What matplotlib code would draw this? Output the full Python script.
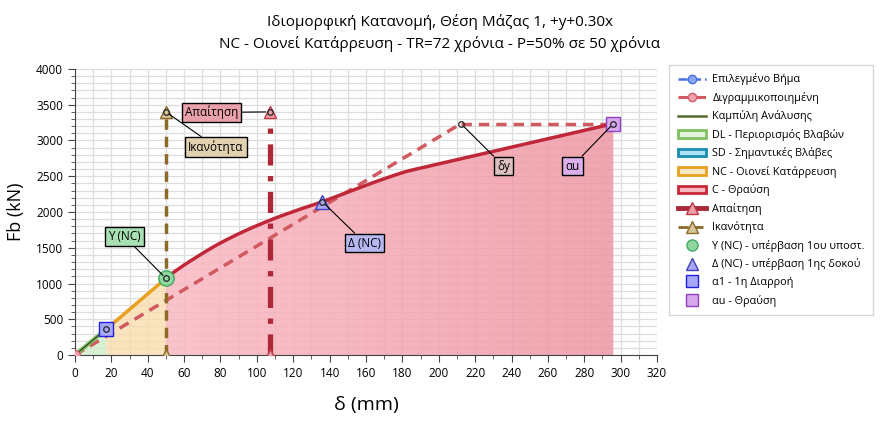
import matplotlib
matplotlib.use("Agg")
import matplotlib.pyplot as plt
from matplotlib.lines import Line2D
from matplotlib.patches import Patch
from matplotlib.ticker import MultipleLocator
import numpy as np

plt.rcParams['font.family'] = ['Open Sans', 'DejaVu Sans']

# pushover curve (analysis)
curve_x = [0, 17.0, 50.0, 57.5, 65.0, 77.9, 92.5, 107.2, 121.0, 136.0, 154.0, 170.0, 185.0, 296.0]
curve_y = [0, 359, 1072, 1215, 1340, 1538, 1725, 1885, 2015, 2144, 2317, 2465, 2585, 3235]
# bilinear idealisation
bilin_x = [0, 212.2, 296.0]
bilin_y = [0, 3235, 3235]
# performance points
a1 = (17.0, 359)
y_nc = (50.0, 1072)
d_nc = (136.0, 2144)
dy = (212.2, 3235)
au = (296.0, 3235)
demand_x = 107.2
capacity_x = 50.0
dc_top = 3400

title = "Ιδιομορφική Κατανομή, Θέση Μάζας 1, +y+0.30x\nNC - Οιονεί Κατάρρευση - TR=72 χρόνια - P=50% σε 50 χρόνια"

fig = plt.figure(figsize=(8.8, 4.24), dpi=100)
ax = fig.add_axes([0.0852, 0.1627, 0.6614, 0.6746])

cx = np.array(curve_x, dtype=float)
cy = np.array(curve_y, dtype=float)

# cubic hermite through the read points (smooth curve look)
h = np.diff(cx)
d = np.diff(cy) / h
m = np.zeros_like(cx)
m[1:-1] = (d[:-1] * h[1:] + d[1:] * h[:-1]) / (h[:-1] + h[1:])
m[0], m[-1] = d[0], d[-1]
m[1], m[2] = d[0], d[1]          # keep the elastic branch straight
m[-2] = d[-1]                    # and the last branch straight

def curve(xs):
    i = np.clip(np.searchsorted(cx, xs) - 1, 0, len(cx) - 2)
    t = (xs - cx[i]) / h[i]
    h00 = 2 * t**3 - 3 * t**2 + 1
    h10 = t**3 - 2 * t**2 + t
    h01 = -2 * t**3 + 3 * t**2
    h11 = t**3 - t**2
    return h00 * cy[i] + h10 * h[i] * m[i] + h01 * cy[i + 1] + h11 * h[i] * m[i + 1]

def seg(x0, x1):
    xs = np.linspace(x0, x1, 400)
    return xs, curve(xs)

# filled zones
gx, gy = seg(0, a1[0])
ax.fill_between(gx, 0, gy, color='#cfeecb', alpha=0.8, lw=0, zorder=1)
ox, oy = seg(a1[0], y_nc[0])
ax.fill_between(ox, 0, oy, color='#f8dca8', alpha=0.75, lw=0, zorder=1)
rx, ry = seg(y_nc[0], au[0])
poly = ax.fill_between(rx, 0, ry, color='none', lw=0, zorder=1)
grad = np.linspace(0, 1, 256)
c0 = np.array([250, 185, 195]) / 255
c1 = np.array([238, 150, 162]) / 255
img = np.zeros((1, 256, 4))
img[0, :, :3] = c0 + (c1 - c0) * grad[:, None]
img[0, :, 3] = 0.85
im = ax.imshow(img, extent=[y_nc[0], au[0], 0, 3300], aspect='auto', zorder=1)
im.set_clip_path(poly.get_paths()[0], transform=ax.transData)

# curve segments
ax.plot(gx, gy, color='#7cc05a', lw=3, zorder=4, solid_capstyle='butt')
ax.plot(ox, oy, color='#e8a020', lw=2.5, zorder=4, solid_capstyle='butt')
ax.plot(rx, ry, color='#c0283a', lw=2.5, zorder=4)
ax.plot([0, a1[0]], [0, a1[1]], color='#333333', lw=0.8, zorder=5)

# bilinear
ax.plot(bilin_x[:2], bilin_y[:2], color='#d05a60', lw=2.5, ls=(0, (3, 2)), zorder=3)
ax.plot(bilin_x[1:], bilin_y[1:], color='#d05a60', lw=2.5, ls=(0, (3, 2)), zorder=3)

# demand / capacity
ax.plot([demand_x, demand_x], [0, dc_top], color='#b02838', lw=3.8,
        ls=(0, (4, 2, 1, 2)), zorder=5)
ax.plot([capacity_x, capacity_x], [0, dc_top], color='#8b6a2a', lw=2.5,
        ls=(0, (3, 2)), zorder=5)
for yy in (0, dc_top):
    ax.plot(demand_x, yy, marker='^', ms=9, mfc='#e8a0a8', mec='#c03848', zorder=6)
    ax.plot(capacity_x, yy, marker='^', ms=9, mfc='#d8c49a', mec='#8b6a2a', zorder=6)

# points
ax.plot(*y_nc, marker='o', ms=11, mfc='#90d8a0', mec='#40a860', zorder=7)
ax.plot(*d_nc, marker='^', ms=10, mfc='#a8a8f0', mec='#4040c0', zorder=7)
ax.plot(*a1, marker='s', ms=10, mfc='#a8a8f8', mec='#2020e0', zorder=7)
ax.plot(*au, marker='s', ms=10, mfc='#d8a8ec', mec='#9040c0', zorder=7)
ax.plot(0, 0, marker='o', ms=7, mfc='#f0a0a8', mec='#d06070', zorder=7)
for p in (a1, y_nc, d_nc, dy, au, (demand_x, dc_top), (capacity_x, dc_top)):
    ax.plot(*p, marker='o', ms=4, mfc='none', mec='#222222', mew=0.9, zorder=8)

# labels
def label(text, pt, xy, fc):
    ax.annotate(text, xy=pt, xytext=xy, fontsize=8.5, ha='center', va='center',
                bbox=dict(boxstyle='square,pad=0.25', fc=fc, ec='black', lw=1),
                arrowprops=dict(arrowstyle='-', color='black', lw=0.8,
                                shrinkA=0, shrinkB=3), zorder=9)

label('Απαίτηση', (demand_x, dc_top), (75, 3392), '#eaa2aa')
label('Ικανότητα', (capacity_x, dc_top), (77.5, 2909), '#e2d2b0')
label('Y (NC)', y_nc, (27.2, 1657), '#a8e0b4')
label('Δ (NC)', d_nc, (159.4, 1566), '#b8b8f0')
label('δy', dy, (235.6, 2643), '#dcc0c0')
label('αu', au, (273.5, 2643), '#dcb0ec')

ax.set_xlim(0, 320)
ax.set_ylim(0, 4000)
ax.xaxis.set_major_locator(MultipleLocator(20))
ax.xaxis.set_minor_locator(MultipleLocator(10))
ax.yaxis.set_major_locator(MultipleLocator(500))
ax.yaxis.set_minor_locator(MultipleLocator(100))
ax.grid(which='both', color='#dddddd', lw=0.9, zorder=0)
ax.set_axisbelow(True)
for s in ('top', 'right'):
    ax.spines[s].set_visible(False)
for s in ('left', 'bottom'):
    ax.spines[s].set_color('#444444')
ax.tick_params(which='major', length=5, labelsize=8.5, color='#444444')
ax.tick_params(which='minor', length=3, color='#444444')
ax.set_xlabel('δ (mm)', fontsize=14, labelpad=12)
ax.set_ylabel('Fb (kN)', fontsize=13, labelpad=8)
fig.suptitle(title, fontsize=11, y=0.967, x=0.5, linespacing=1.5)

handles = [
    Line2D([], [], color='#4a70e0', ls='--', marker='o', ms=6, mfc='#8aa8f0', mec='#4a70e0', lw=1.8),
    Line2D([], [], color='#d05a60', ls='--', marker='o', ms=6, mfc='#f0a0a8', mec='#d06070', lw=2.2),
    Line2D([], [], color='#556b2f', lw=1.8),
    Patch(fc='#e4f4dc', ec='#80c060', lw=2),
    Patch(fc='#b0e4f4', ec='#1a8cb0', lw=2),
    Patch(fc='#fbe8c4', ec='#e8a020', lw=2),
    Patch(fc='#f5b8c0', ec='#c82838', lw=2),
    Line2D([], [], color='#a82838', lw=3.5, marker='^', ms=9, mfc='#e8a0a8', mec='#c03848'),
    Line2D([], [], color='#8b6a2a', lw=2, ls='--', marker='^', ms=8, mfc='#d8c49a', mec='#8b6a2a'),
    Line2D([], [], ls='none', marker='o', ms=8, mfc='#90d8a0', mec='#40a860'),
    Line2D([], [], ls='none', marker='^', ms=8, mfc='#a8a8f0', mec='#4040c0'),
    Line2D([], [], ls='none', marker='s', ms=8, mfc='#a8a8f8', mec='#2020e0'),
    Line2D([], [], ls='none', marker='s', ms=8, mfc='#d8a8ec', mec='#9040c0'),
]
names = ['Επιλεγμένο Βήμα', 'Διγραμμικοποιημένη', 'Καμπύλη Ανάλυσης',
         'DL - Περιορισμός Βλαβών', 'SD - Σημαντικές Βλάβες',
         'NC - Οιονεί Κατάρρευση', 'C - Θραύση', 'Απαίτηση', 'Ικανότητα',
         'Y (NC) - υπέρβαση 1ου υποστ.', 'Δ (NC) - υπέρβαση 1ης δοκού',
         'α1 - 1η Διαρροή', 'αu - Θραύση']
leg = fig.legend(handles, names, loc='upper left', bbox_to_anchor=(0.754, 0.86),
                 fontsize=7.8, frameon=True, fancybox=False, edgecolor='#cccccc',
                 handlelength=2.6, handletextpad=0.6, labelspacing=0.6, borderpad=0.8)
leg.get_frame().set_linewidth(1)

fig.savefig('out.png', dpi=100)
